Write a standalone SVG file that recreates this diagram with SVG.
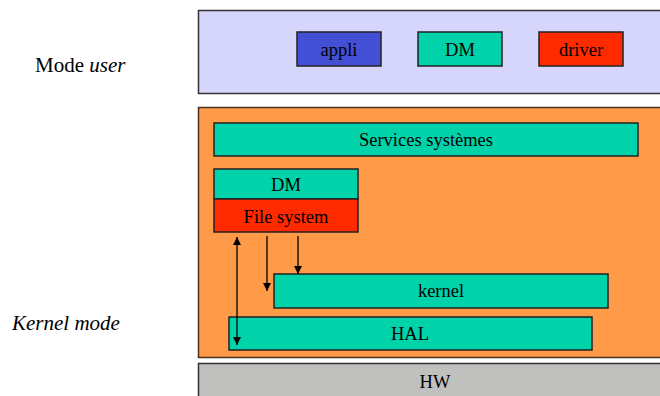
<svg xmlns="http://www.w3.org/2000/svg" width="660" height="396" viewBox="0 0 660 396" font-family="'Liberation Serif', 'Times New Roman', serif" font-size="18.5">
  <style>
    .lbl { text-anchor: middle; }
    .side { font-size: 21px; }
    .box { stroke: #222; stroke-width: 1.5; }
    .teal { fill: #00D2AA; }
    .red { fill: #FF2A00; }
    .blue { fill: #4350D6; }
    .conn { stroke: #000; stroke-width: 1.3; fill: none; }
  </style>
  <defs>
    <marker id="arrow" viewBox="0 0 10 10" refX="10" refY="5" markerWidth="8" markerHeight="8" orient="auto-start-reverse" markerUnits="userSpaceOnUse">
      <path d="M0,0 L10,5 L0,10 z" fill="#000"/>
    </marker>
  </defs>
  <rect width="660" height="396" fill="#fff"/>

  <!-- side labels -->
  <text class="side" x="35" y="72">Mode <tspan font-style="italic">user</tspan></text>
  <text class="side" x="12" y="330" font-style="italic">Kernel mode</text>

  <!-- user space layer -->
  <g id="user-layer">
    <rect x="198.5" y="10.5" width="470" height="83" fill="#D6D6FC" stroke="#333" stroke-width="1.5"/>
  </g>
  <g id="appli">
    <rect class="box blue" x="297" y="32" width="84" height="34"/>
    <text class="lbl" x="339" y="56">appli</text>
  </g>
  <g id="dm-user">
    <rect class="box teal" x="418" y="32" width="84" height="34"/>
    <text class="lbl" x="460" y="56">DM</text>
  </g>
  <g id="driver">
    <rect class="box red" x="539" y="32" width="84" height="34"/>
    <text class="lbl" x="581" y="56">driver</text>
  </g>

  <!-- kernel layer -->
  <g id="kernel-layer">
    <rect x="198.5" y="107.5" width="470" height="250" fill="#FF9A48" stroke="#4a3020" stroke-width="1.5"/>
  </g>
  <g id="services">
    <rect class="box teal" x="214" y="123" width="424" height="33"/>
    <text class="lbl" x="426" y="146">Services systèmes</text>
  </g>
  <g id="dm-kernel">
    <rect class="box teal" x="214" y="169" width="144" height="30"/>
    <text class="lbl" x="286" y="191">DM</text>
  </g>
  <g id="file-system">
    <rect class="box red" x="214" y="199" width="144" height="33"/>
    <text class="lbl" x="286" y="223">File system</text>
  </g>
  <g id="kernel">
    <rect class="box teal" x="274" y="274" width="334" height="34"/>
    <text class="lbl" x="441" y="297">kernel</text>
  </g>
  <g id="hal">
    <rect class="box teal" x="229" y="317" width="363" height="33"/>
    <text class="lbl" x="410" y="340">HAL</text>
  </g>

  <!-- hardware layer -->
  <g id="hw">
    <rect x="198.5" y="363.5" width="470" height="40" fill="#C0C1BF" stroke="#333" stroke-width="1.5"/>
    <text class="lbl" x="435" y="388">HW</text>
  </g>

  <!-- connectors -->
  <g id="connectors">
    <line class="conn" x1="237" y1="237" x2="237" y2="345" marker-start="url(#arrow)" marker-end="url(#arrow)"/>
    <line class="conn" x1="267" y1="236" x2="267" y2="291" marker-end="url(#arrow)"/>
    <line class="conn" x1="298" y1="236" x2="298" y2="274" marker-end="url(#arrow)"/>
  </g>
</svg>
